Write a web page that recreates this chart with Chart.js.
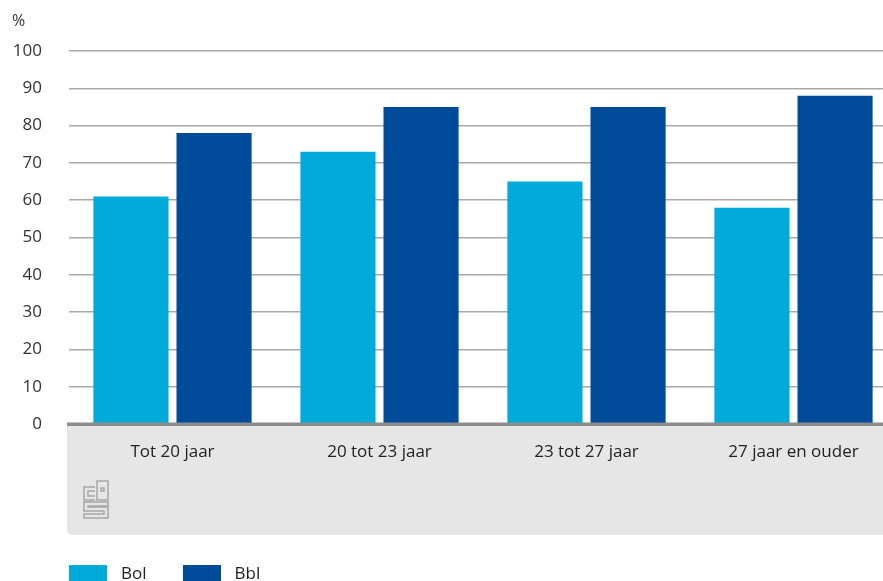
<!DOCTYPE html>
<html>
<head>
<meta charset="utf-8">
<script src="https://cdn.jsdelivr.net/npm/chart.js@4"></script>
<style>
  html, body { margin: 0; padding: 0; background: #fff; overflow: hidden; }
  body { width: 883px; height: 581px; position: relative; font-family: 'Open Sans', sans-serif; }
  #wrap { position: absolute; left: 0; top: 0; width: 897px; height: 581px; }
  .legend { position: absolute; top: 565px; left: 69px; display: flex; font-size: 17px; line-height: 16px; color: #222; }
  .legend span.item { display: flex; align-items: flex-start; margin-right: 36px; }
  .legend i { display: inline-block; width: 38px; height: 16px; margin-right: 14px; }
</style>
</head>
<body>
<div id="wrap"><canvas id="c"></canvas></div>
<div class="legend">
  <span class="item"><i style="background:#00abd9"></i>Bol</span>
  <span class="item"><i style="background:#004c9b"></i>Bbl</span>
</div>
<script>
/* leeftijdsgroepen en percentages (Bol / Bbl) */
const categories = ['Tot 20 jaar', '20 tot 23 jaar', '23 tot 27 jaar', '27 jaar en ouder'];
const bolValues = [61, 73, 65, 58];
const bblValues = [78, 85, 85, 88];
const yTicks = [0, 10, 20, 30, 40, 50, 60, 70, 80, 90, 100];

const FONT = { family: 'Open Sans', size: 17 };

/* grijze band onder de as (achter de labels) */
const band = {
  id: 'band',
  beforeDraw(chart) {
    const { ctx, chartArea } = chart;
    const y0 = chart.scales.y.getPixelForValue(0);
    ctx.save();
    ctx.fillStyle = '#e6e6e6';
    ctx.beginPath();
    ctx.moveTo(67, y0 + 2);
    ctx.lineTo(chartArea.right, y0 + 2);
    ctx.lineTo(chartArea.right, 535);
    ctx.lineTo(72, 535);
    ctx.quadraticCurveTo(67, 535, 67, 530);
    ctx.closePath();
    ctx.fill();

    ctx.fillStyle = '#333';
    ctx.font = '16px "Open Sans"';
    ctx.textBaseline = 'top';
    ctx.fillText('%', 12, 13);

    // cbs logo
    ctx.strokeStyle = '#a6a6a6';
    ctx.lineWidth = 1.5;
    ctx.beginPath();
    ctx.moveTo(95, 487); ctx.lineTo(84, 487); ctx.lineTo(84, 500); ctx.lineTo(95, 500);
    ctx.moveTo(95, 491); ctx.lineTo(88, 491); ctx.lineTo(88, 496); ctx.lineTo(95, 496);
    ctx.rect(97, 481, 11, 19);
    ctx.rect(101, 488, 3, 3);
    ctx.moveTo(108, 502); ctx.lineTo(84, 502); ctx.lineTo(84, 511); ctx.lineTo(104, 511);
    ctx.lineTo(104, 514); ctx.lineTo(84, 514); ctx.lineTo(84, 518); ctx.lineTo(108, 518);
    ctx.lineTo(108, 507); ctx.lineTo(88, 507); ctx.lineTo(88, 506); ctx.lineTo(108, 506);
    ctx.closePath();
    ctx.stroke();
    ctx.restore();
  }
};

/* dikke nullijn over de voet van de staven */
const zeroLine = {
  id: 'zeroLine',
  afterDatasetsDraw(chart) {
    const { ctx, chartArea } = chart;
    const y0 = chart.scales.y.getPixelForValue(0);
    ctx.save();
    ctx.fillStyle = '#8c8c8c';
    ctx.fillRect(67, y0 - 1.5, chartArea.right - 67, 3.5);
    ctx.restore();
  }
};

new Chart(document.getElementById('c'), {
  type: 'bar',
  data: {
    labels: categories,
    datasets: [
      { label: 'Bol', data: bolValues, backgroundColor: '#00abd9' },
      { label: 'Bbl', data: bblValues, backgroundColor: '#004c9b' }
    ]
  },
  options: {
    responsive: true,
    maintainAspectRatio: false,
    animation: false,
    categoryPercentage: 0.803,
    barPercentage: 0.904,
    layout: { padding: { top: 51 } },
    plugins: { legend: { display: false }, tooltip: { enabled: false } },
    scales: {
      x: {
        grid: { display: false },
        border: { display: false },
        ticks: { color: '#222', font: FONT, padding: 10, maxRotation: 0 },
        afterFit: s => { s.height = 157; }
      },
      y: {
        min: 0, max: 100,
        afterBuildTicks: s => { s.ticks = yTicks.map(v => ({ value: v })); },
        afterFit: s => { s.width = 69; },
        border: { display: false },
        grid: {
          drawTicks: false,
          color: c => c.tick && c.tick.value === 0 ? 'rgba(0,0,0,0)' : '#a9a9a9',
          lineWidth: 1.5
        },
        ticks: { color: '#333', font: FONT, padding: 27 }
      }
    }
  },
  plugins: [band, zeroLine]
});
</script>
</body>
</html>
